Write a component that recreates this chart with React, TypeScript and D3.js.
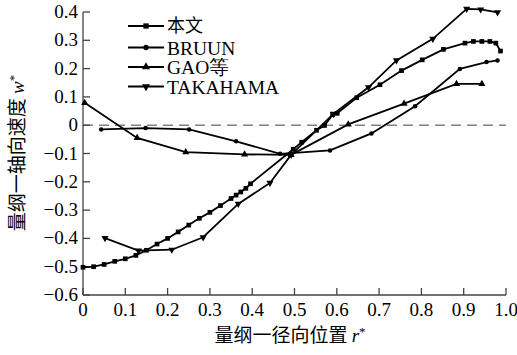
import * as d3 from "d3";

const width = 517;
const height = 355;
const margin = { top: 12, right: 11, bottom: 60, left: 83 };

// 本文 (this work)
const benwenR = [0, 0.025, 0.05, 0.075, 0.1, 0.125, 0.15, 0.175, 0.2, 0.225, 0.25, 0.275, 0.3, 0.325, 0.35, 0.362, 0.373, 0.385, 0.396, 0.497, 0.517, 0.552, 0.571, 0.59, 0.601, 0.647, 0.702, 0.753, 0.802, 0.852, 0.903, 0.923, 0.943, 0.962, 0.976, 0.987];
const benwenW = [-0.502, -0.5, -0.492, -0.481, -0.472, -0.46, -0.442, -0.42, -0.4, -0.377, -0.353, -0.329, -0.308, -0.284, -0.259, -0.247, -0.236, -0.223, -0.207, -0.085, -0.06, -0.018, -0.001, 0.037, 0.042, 0.097, 0.143, 0.193, 0.231, 0.268, 0.29, 0.296, 0.296, 0.296, 0.29, 0.262];

const bruunR = [0.043, 0.148, 0.251, 0.362, 0.466, 0.584, 0.682, 0.785, 0.891, 0.954, 0.98];
const bruunW = [-0.015, -0.01, -0.015, -0.057, -0.101, -0.089, -0.029, 0.067, 0.199, 0.223, 0.229];

const gaoR = [0.004, 0.128, 0.243, 0.382, 0.492, 0.627, 0.759, 0.883, 0.943];
const gaoW = [0.079, -0.045, -0.095, -0.103, -0.105, 0.003, 0.076, 0.146, 0.146];

const takaR = [0.052, 0.131, 0.21, 0.284, 0.367, 0.442, 0.492, 0.592, 0.675, 0.741, 0.827, 0.907, 0.94, 0.98];
const takaW = [-0.399, -0.443, -0.44, -0.396, -0.278, -0.204, -0.105, 0.04, 0.134, 0.229, 0.305, 0.411, 0.409, 0.399];

const seriesNames = ["本文", "BRUUN", "GAO等", "TAKAHAMA"];
const xTicks = [0, 0.1, 0.2, 0.3, 0.4, 0.5, 0.6, 0.7, 0.8, 0.9, 1.0];
const yTicks = [0.4, 0.3, 0.2, 0.1, 0, -0.1, -0.2, -0.3, -0.4, -0.5, -0.6];

const serif = "'Liberation Serif', 'Times New Roman', serif";
const cjk = "'Noto Sans CJK SC', 'Liberation Serif', serif";

const series = [
  { name: seriesNames[0], r: benwenR, w: benwenW, symbol: d3.symbolSquare, size: 22, rotate: 0 },
  { name: seriesNames[1], r: bruunR, w: bruunW, symbol: d3.symbolCircle, size: 16, rotate: 0 },
  { name: seriesNames[2], r: gaoR, w: gaoW, symbol: d3.symbolTriangle, size: 22, rotate: 0 },
  { name: seriesNames[3], r: takaR, w: takaW, symbol: d3.symbolTriangle, size: 22, rotate: 180 },
];

const fmtX = (v: number) => (v === 0 ? "0" : v === 1 ? "1.0" : v.toFixed(1));
const fmtY = (v: number) => (v === 0 ? "0" : v < 0 ? "\u2212" + Math.abs(v).toFixed(1) : v.toFixed(1));

export default function App() {
  const x = d3.scaleLinear().domain([0, 1]).range([margin.left, width - margin.right]);
  const y = d3.scaleLinear().domain([-0.6, 0.4]).range([height - margin.bottom, margin.top]);
  const line = d3.line<[number, number]>().x((d) => x(d[0])).y((d) => y(d[1]));

  return (
    <svg width={width} height={height} style={{ position: "absolute", left: 0, top: 0, background: "#fff" }}>
      {/* zero reference */}
      <line x1={x(0)} x2={x(1)} y1={y(0)} y2={y(0)} stroke="#808080" strokeWidth={1.5} strokeDasharray="10,6" />

      {/* axes */}
      <g stroke="#444" strokeWidth={1.3} fill="none">
        <line x1={x(0)} x2={x(0)} y1={y(-0.6)} y2={y(0.4)} />
        <line x1={x(0)} x2={x(1)} y1={y(-0.6)} y2={y(-0.6)} />
        {yTicks.map((t) => (
          <line key={"yt" + t} x1={x(0)} x2={x(0) + 7} y1={y(t)} y2={y(t)} />
        ))}
        {xTicks.map((t) => (
          <line key={"xt" + t} x1={x(t)} x2={x(t)} y1={y(-0.6)} y2={y(-0.6) - 7} />
        ))}
      </g>
      <g fontFamily={serif} fontSize={19} fill="#000">
        {yTicks.map((t) => (
          <text key={"yl" + t} x={x(0) - 5} y={y(t) + 6} textAnchor="end">
            {fmtY(t)}
          </text>
        ))}
        {xTicks.map((t) => (
          <text key={"xl" + t} x={x(t)} y={y(-0.6) + 21} textAnchor="middle">
            {fmtX(t)}
          </text>
        ))}
      </g>

      {/* series */}
      {series.map((s) => {
        const pts = s.r.map((r, i) => [r, s.w[i]] as [number, number]);
        const sym = d3.symbol().type(s.symbol).size(s.size)();
        return (
          <g key={s.name}>
            <path d={line(pts) ?? ""} fill="none" stroke="#000" strokeWidth={1.8} />
            {pts.map((p, i) => (
              <path key={i} d={sym ?? ""} transform={`translate(${x(p[0])},${y(p[1])}) rotate(${s.rotate})`} fill="#000" />
            ))}
          </g>
        );
      })}

      {/* legend */}
      <g>
        {series.map((s, i) => {
          const ly = i === 0 ? 26 : 28 + i * 19.5;
          const sym = d3.symbol().type(s.symbol).size(s.size + 6)();
          return (
            <g key={"lg" + s.name}>
              <line x1={128} x2={164} y1={ly} y2={ly} stroke="#000" strokeWidth={1.8} />
              <path d={sym ?? ""} transform={`translate(146,${ly}) rotate(${s.rotate})`} fill="#000" />
              <text
                x={167}
                y={ly + (i === 0 ? 6 : 7)}
                fontFamily={i === 0 ? cjk : serif}
                fontSize={i === 0 ? 18 : 19.5}
                fill="#000"
              >
                {s.name}
              </text>
            </g>
          );
        })}
      </g>

      {/* axis titles */}
      <text x={290} y={342} textAnchor="middle" fontFamily={cjk} fontSize={19} fill="#000">
        量纲一径向位置{" "}
        <tspan fontFamily={serif} fontStyle="italic">r</tspan>
        <tspan fontFamily={serif} fontSize={13} dy={-6}>*</tspan>
      </text>
      <text transform="translate(24,153) rotate(-90)" textAnchor="middle" fontFamily={cjk} fontSize={19} fill="#000">
        量纲一轴向速度{" "}
        <tspan fontFamily={serif} fontStyle="italic">w</tspan>
        <tspan fontFamily={serif} fontSize={13} dy={-6}>*</tspan>
      </text>
    </svg>
  );
}
